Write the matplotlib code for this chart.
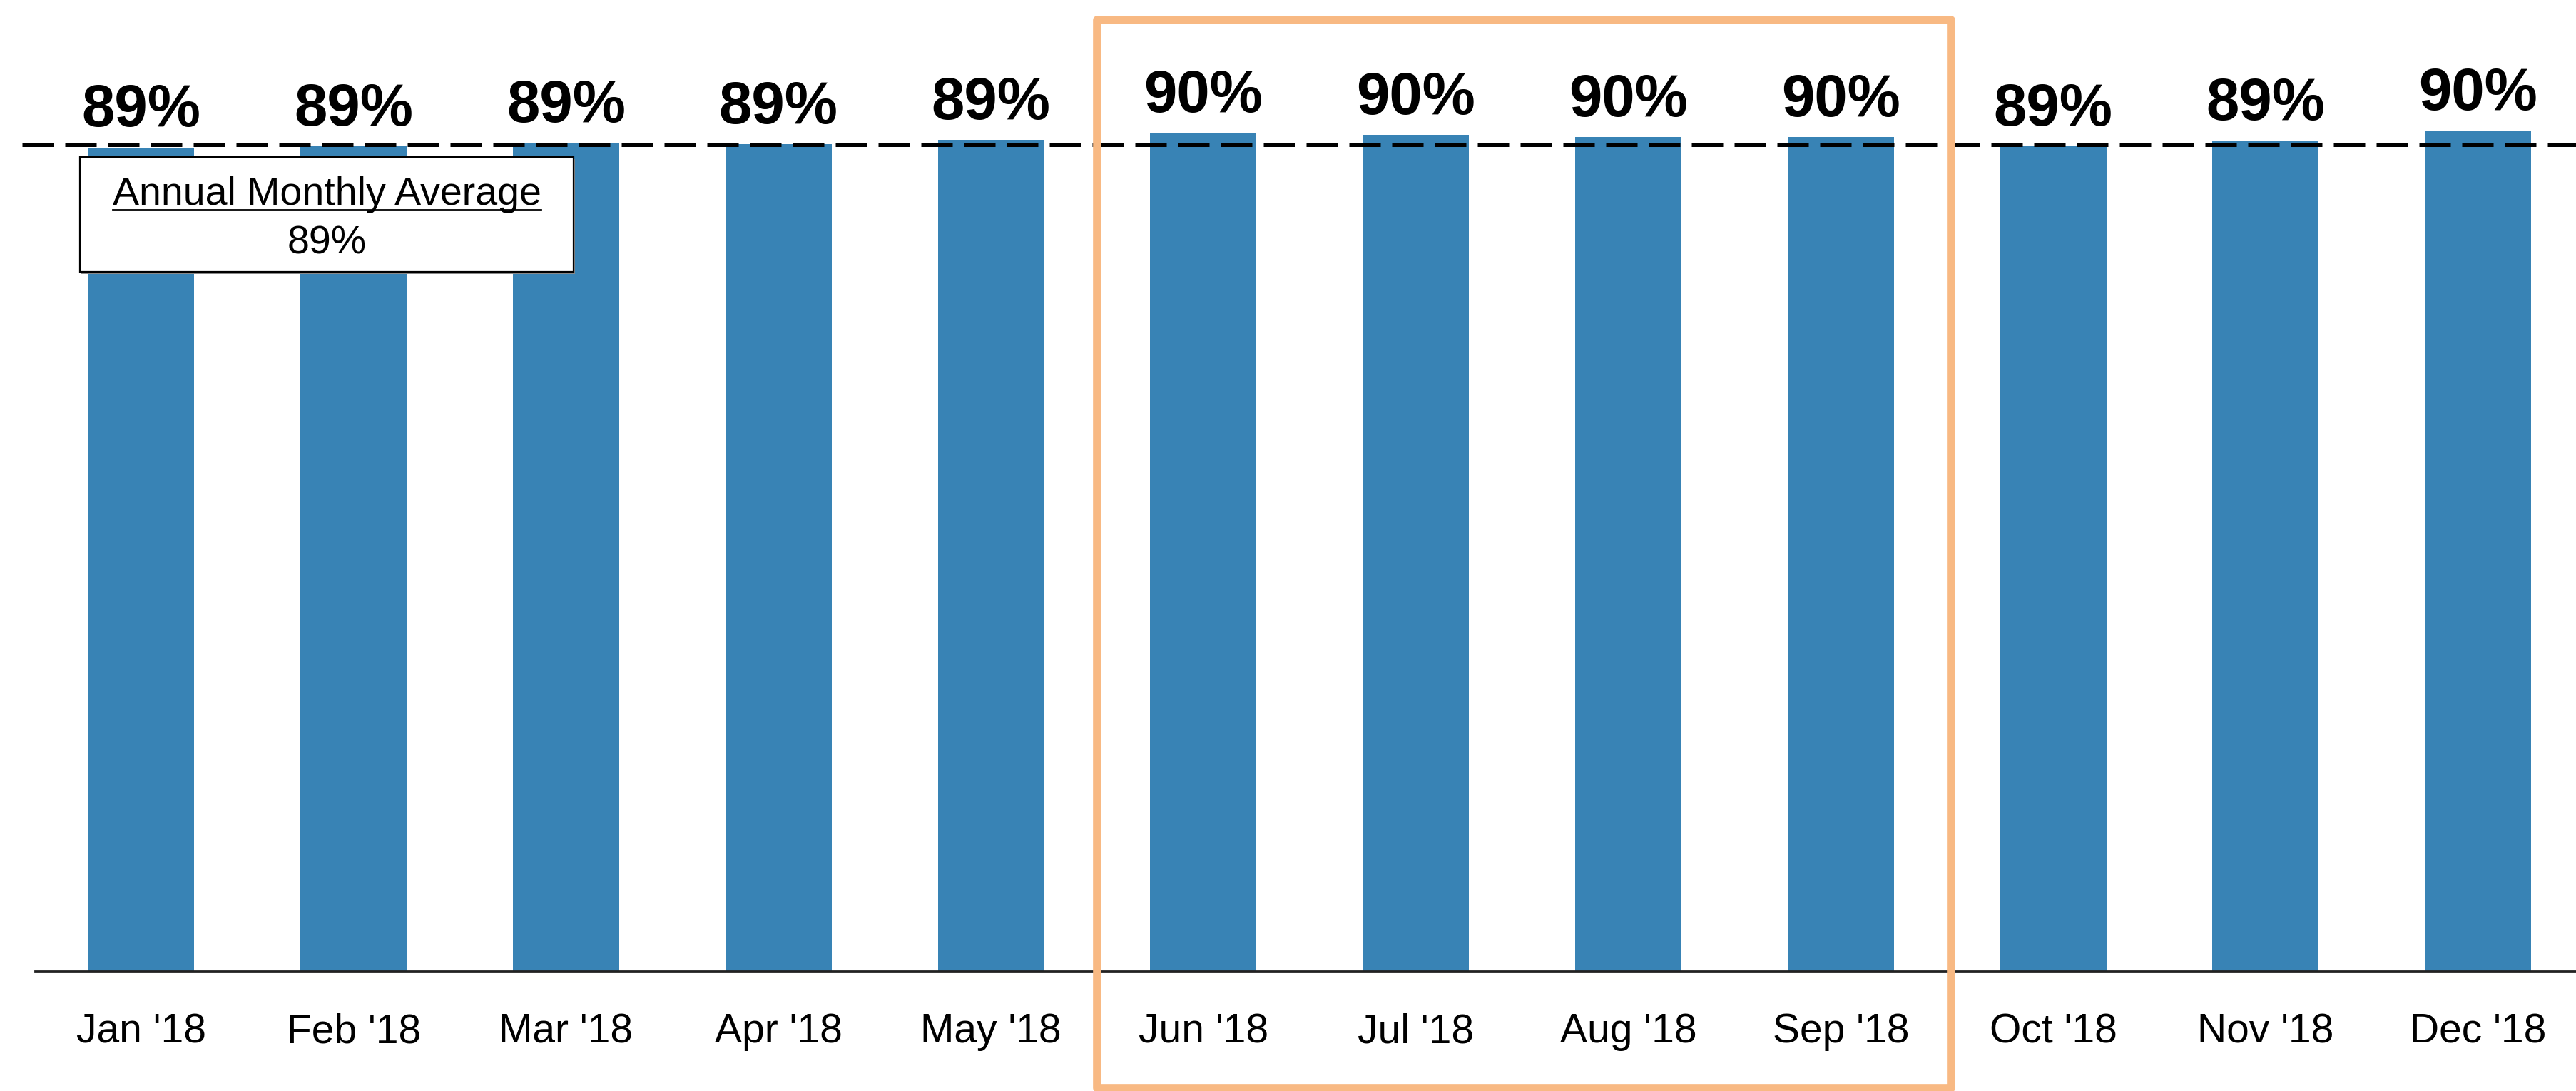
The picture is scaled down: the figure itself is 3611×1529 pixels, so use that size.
import matplotlib
matplotlib.use('Agg')
import matplotlib.pyplot as plt
import matplotlib.transforms as mtransforms
from matplotlib.patches import Rectangle
import numpy as np

months = ["Jan '18", "Feb '18", "Mar '18", "Apr '18", "May '18", "Jun '18",
          "Jul '18", "Aug '18", "Sep '18", "Oct '18", "Nov '18", "Dec '18"]
values = [88.6, 88.7, 89.06, 88.97, 89.41, 90.18, 89.95, 89.74, 89.69, 88.72, 89.33, 90.41]
annual_avg = 88.87
highlight = (5, 8)  # Jun..Sep

bar_color = '#3883B5'
box_color = '#F8B983'
label_font = ['Liberation Sans Narrow', 'Liberation Sans', 'DejaVu Sans']
text_font = ['Liberation Sans', 'DejaVu Sans']

dpi = 200
fig = plt.figure(figsize=(3611 / dpi, 1529 / dpi), dpi=dpi)
ax = fig.add_axes([49 / 3611, 1 - 1361 / 1529, 12 * 297.8 / 3611, 1361 / 1529])

xs = np.arange(len(months))
ax.bar(xs, values, width=0.5, color=bar_color, zorder=2)
ax.set_xlim(-0.5, 11.5)
ax.set_ylim(0, 104.45)

for x, v in zip(xs, values):
    ax.annotate('{:.0f}%'.format(v), (x, v), xytext=(0, 10.5), textcoords='offset points',
                ha='center', va='baseline', fontsize=30, fontweight='bold',
                family=label_font, color='black', zorder=4)

# average line
ax.plot([-0.56, 11.5], [annual_avg, annual_avg], color='black', lw=1.8,
        dashes=(8.8, 3.2), clip_on=False, zorder=3)

# axes styling
for s in ['top', 'right', 'left']:
    ax.spines[s].set_visible(False)
ax.spines['bottom'].set_color('#222222')
ax.spines['bottom'].set_linewidth(1.0)
ax.set_yticks([])
ax.set_xticks(xs)
ax.set_xticklabels(months, family=text_font, fontsize=20.5)
ax.tick_params(axis='x', length=0, pad=21)

# annotation box for the annual average
bx0, bx1 = -0.287, 2.034
by0, by1 = 75.23, 87.57
shadow = Rectangle((bx0, by0), bx1 - bx0, by1 - by0, facecolor='#888888', edgecolor='none',
                   zorder=4, transform=ax.transData + mtransforms.ScaledTranslation(2 / dpi, -3 / dpi, fig.dpi_scale_trans))
ax.add_patch(shadow)
ax.add_patch(Rectangle((bx0, by0), bx1 - bx0, by1 - by0, facecolor='white',
                       edgecolor='black', lw=0.8, zorder=5))
cx = (bx0 + bx1) / 2
t1 = ax.text(cx, 82.45, 'Annual Monthly Average', ha='center', va='baseline',
             fontsize=20, family=text_font, zorder=6)
ax.text(cx, 77.2, '{:.0f}%'.format(annual_avg), ha='center', va='baseline',
        fontsize=20, family=text_font, zorder=6)

# underline the box title
fig.canvas.draw()
bb = t1.get_window_extent().transformed(ax.transData.inverted())
ax.plot([bb.x0, bb.x1], [81.9, 81.9], color='black', lw=1.0, zorder=6)

# highlight box around Jun - Sep
trans = mtransforms.blended_transform_factory(ax.transData, fig.transFigure)
ax.add_patch(Rectangle((highlight[0] - 0.5, 1 - 1525 / 1529), highlight[1] - highlight[0] + 1.02,
                       (1525 - 28) / 1529, transform=trans, fill=False, edgecolor=box_color,
                       lw=4.2, joinstyle='round', clip_on=False, zorder=7))

plt.savefig('out.png', dpi=dpi)
